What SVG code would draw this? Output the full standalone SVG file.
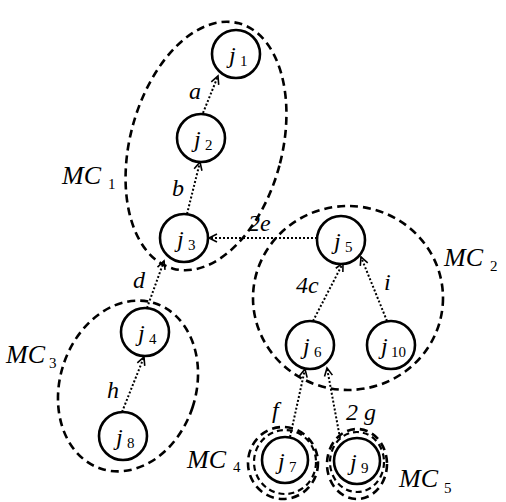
<svg xmlns="http://www.w3.org/2000/svg" width="506" height="502" viewBox="0 0 506 502" font-family="'Liberation Serif', 'Times New Roman', serif">
<defs>
<style>
.node{fill:#fff;stroke:#000;stroke-width:2.6}
.mc{fill:none;stroke:#000;stroke-width:2.6;stroke-dasharray:8 5}
.mc2{fill:none;stroke:#000;stroke-width:2.2;stroke-dasharray:6 4}
.edge{fill:none;stroke:#000;stroke-width:2;stroke-dasharray:2 2}
text{font-family:'Liberation Serif','Times New Roman',serif;fill:#000}
.it{font-style:italic;font-size:24px}
.sub{font-size:15px}
.mct{font-style:italic;font-size:26px}
</style>
<marker id="arr" markerUnits="userSpaceOnUse" markerWidth="12" markerHeight="12" refX="9" refY="5" orient="auto" viewBox="0 0 12 10">
<path d="M1,1 L9,5 L1,9" fill="none" stroke="#000" stroke-width="1.6"/>
</marker>
</defs>
<rect width="506" height="502" fill="#fff"/>
<g id="clusters">
<ellipse id="MC1" class="mc" cx="206" cy="146" rx="76" ry="127" transform="rotate(15 206 146)"/>
<ellipse id="MC2" class="mc" cx="348" cy="298" rx="95" ry="92"/>
<ellipse id="MC3" class="mc" cx="128" cy="386" rx="68" ry="87" transform="rotate(18 128 386)"/>
<ellipse id="MC4a" class="mc" cx="283" cy="463" rx="35" ry="36"/>
<ellipse id="MC4b" class="mc2" cx="285" cy="462" rx="31" ry="32"/>
<ellipse id="MC5a" class="mc" cx="357" cy="464" rx="30" ry="35"/>
<ellipse id="MC5b" class="mc2" cx="357" cy="462" rx="27" ry="30"/>
<text class="mct" x="62" y="184">MC</text><text class="sub" x="108" y="189">1</text>
<text class="mct" x="444" y="266">MC</text><text class="sub" x="490" y="271">2</text>
<text class="mct" x="6" y="363">MC</text><text class="sub" x="49" y="368">3</text>
<text class="mct" x="187" y="468">MC</text><text class="sub" x="233" y="472">4</text>
<text class="mct" x="399" y="487">MC</text><text class="sub" x="444" y="493">5</text>
</g>
<g id="connectors">
<line class="edge" x1="203" y1="113" x2="218" y2="76" marker-end="url(#arr)"/>
<line class="edge" x1="187" y1="214" x2="200" y2="162" marker-end="url(#arr)"/>
<line class="edge" x1="317" y1="238" x2="209" y2="238" marker-end="url(#arr)"/>
<line class="edge" x1="147" y1="308" x2="164" y2="261" marker-end="url(#arr)"/>
<line class="edge" x1="122" y1="412" x2="144" y2="357" marker-end="url(#arr)"/>
<line class="edge" x1="313" y1="321" x2="343" y2="263" marker-end="url(#arr)"/>
<line class="edge" x1="387" y1="321" x2="361" y2="257" marker-end="url(#arr)"/>
<line class="edge" x1="290" y1="437" x2="305" y2="369" marker-end="url(#arr)"/>
<line class="edge" x1="340" y1="438" x2="327" y2="368" marker-end="url(#arr)"/>
<text class="it" x="189" y="99">a</text>
<text class="it" x="172" y="196">b</text>
<text class="it" x="248" y="231">2e</text>
<text class="it" x="133" y="288">d</text>
<text class="it" x="296" y="293">4c</text>
<text class="it" x="384" y="290">i</text>
<text class="it" x="107" y="398">h</text>
<text class="it" x="272" y="418">f</text>
<text class="it" x="346" y="420">2 g</text>
</g>
<g id="j1"><circle class="node" cx="236" cy="54" r="24"/><text class="it" x="229" y="63">j</text><text class="sub" x="240" y="66">1</text></g>
<g id="j2"><circle class="node" cx="201" cy="138" r="24"/><text class="it" x="194" y="147">j</text><text class="sub" x="205" y="150">2</text></g>
<g id="j3"><circle class="node" cx="184" cy="238" r="24"/><text class="it" x="177" y="247">j</text><text class="sub" x="188" y="250">3</text></g>
<g id="j4"><circle class="node" cx="145" cy="332" r="24"/><text class="it" x="138" y="341">j</text><text class="sub" x="149" y="344">4</text></g>
<g id="j5"><circle class="node" cx="341" cy="240" r="24"/><text class="it" x="334" y="249">j</text><text class="sub" x="345" y="252">5</text></g>
<g id="j6"><circle class="node" cx="310" cy="345" r="24"/><text class="it" x="303" y="354">j</text><text class="sub" x="314" y="357">6</text></g>
<g id="j10"><circle class="node" cx="391" cy="345" r="24"/><text class="it" x="381" y="354">j</text><text class="sub" x="391" y="357">10</text></g>
<g id="j7"><circle class="node" cx="285" cy="460" r="23"/><text class="it" x="278" y="469">j</text><text class="sub" x="289" y="472">7</text></g>
<g id="j8"><circle class="node" cx="123" cy="436" r="24"/><text class="it" x="116" y="445">j</text><text class="sub" x="127" y="448">8</text></g>
<g id="j9"><circle class="node" cx="357" cy="461" r="23"/><text class="it" x="350" y="470">j</text><text class="sub" x="361" y="473">9</text></g>
</svg>
